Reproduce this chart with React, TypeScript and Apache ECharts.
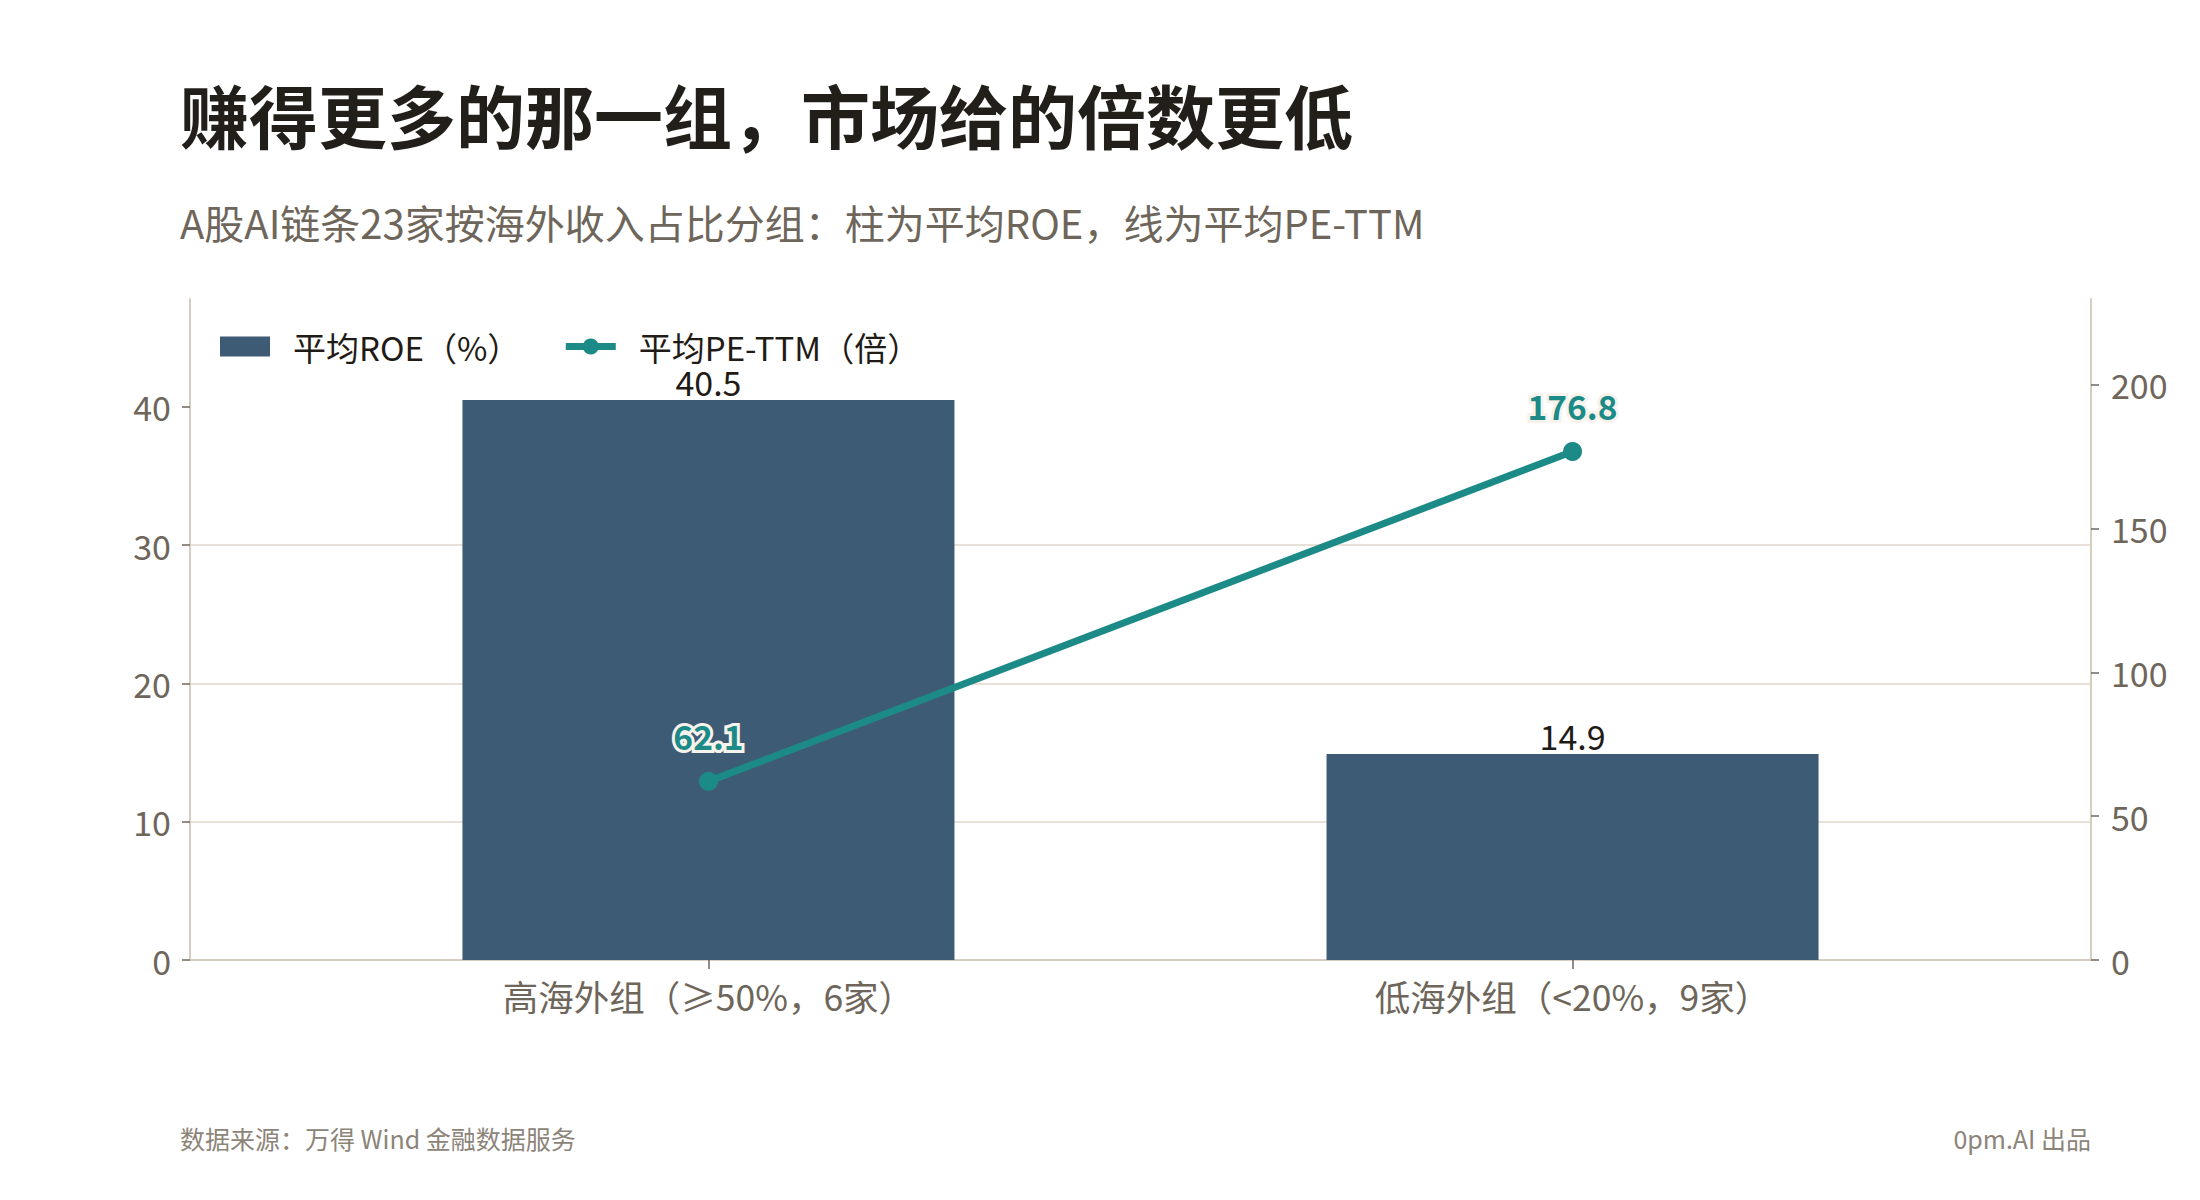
import React, { useEffect, useRef } from "react";
import * as echarts from "echarts";

// categories sit at x = 0 and x = 1 on a value axis (range -0.6 .. 1.6)
const groups = ["高海外组（≥50%，6家）", "低海外组（<20%，9家）"];
const groupPos = [0, 1];
const roeValues = [40.5, 14.9];
const peValues = [62.1, 176.8];
const roeTicks = [0, 10, 20, 30, 40];
const peTicks = [0, 50, 100, 150, 200];
const roeMax = 47.8;
const peMax = 229.8;

const FONT = "'Noto Sans CJK SC', 'Noto Sans', sans-serif";
const BAR = "#3e5b76";
const TEAL = "#1c8b87";
const AXIS = "#d6ccbf";
const GRID = "#e9e1d7";
const TICK_TEXT = "#6e665b";

const App: React.FC = () => {
  const chartRef = useRef<HTMLDivElement>(null);

  useEffect(() => {
    if (!chartRef.current) return;
    const chart = echarts.init(chartRef.current, null, { renderer: "svg" });

    const option = {
      animation: false,
      backgroundColor: "#ffffff",
      textStyle: { fontFamily: FONT },
      grid: { left: 190, right: 109, top: 299, bottom: 240 },
      graphic: [
        {
          type: "text",
          x: 180,
          y: 114,
          style: {
            text: "赚得更多的那一组，市场给的倍数更低",
            fontFamily: FONT,
            fontSize: 69,
            fontWeight: "bold",
            fill: "#221f1a",
            verticalAlign: "middle",
          },
        },
        {
          type: "text",
          x: 180,
          y: 222,
          style: {
            text: "A股AI链条23家按海外收入占比分组：柱为平均ROE，线为平均PE-TTM",
            fontFamily: FONT,
            fontSize: 40,
            fill: "#6e665b",
            verticalAlign: "middle",
          },
        },
        {
          type: "text",
          x: 180,
          y: 1138,
          style: {
            text: "数据来源：万得 Wind 金融数据服务",
            fontFamily: FONT,
            fontSize: 25,
            fill: "#8c8479",
            verticalAlign: "middle",
          },
        },
        {
          type: "text",
          x: 2091,
          y: 1138,
          style: {
            text: "0pm.AI 出品",
            fontFamily: FONT,
            fontSize: 25,
            fill: "#8c8479",
            align: "right",
            verticalAlign: "middle",
          },
        },
      ],
      legend: {
        left: 215,
        top: 325,
        itemWidth: 50,
        itemHeight: 20,
        itemGap: 42,
        textStyle: { fontFamily: FONT, fontSize: 33, color: "#1f1b16", padding: [0, 0, 0, 18] },
        data: [
          { name: "平均ROE（%）", icon: "rect" },
          { name: "平均PE-TTM（倍）", lineStyle: { width: 7 } },
        ],
      },
      xAxis: {
        type: "value",
        min: -0.6,
        max: 1.6,
        axisLine: { show: true, onZero: false, lineStyle: { color: AXIS, width: 2 } },
        axisTick: {
          show: true,
          customValues: groupPos,
          length: 9,
          lineStyle: { color: TICK_TEXT, width: 1.5 },
        },
        axisLabel: {
          customValues: groupPos,
          formatter: (v: number) => groups[groupPos.indexOf(v)] ?? "",
          fontFamily: FONT,
          fontSize: 35.5,
          color: TICK_TEXT,
          margin: 18,
        },
        splitLine: { show: false },
      },
      yAxis: [
        {
          type: "value",
          min: 0,
          max: roeMax,
          axisLine: { show: true, onZero: false, lineStyle: { color: AXIS, width: 2 } },
          axisTick: {
            show: true,
            customValues: roeTicks,
            length: 8,
            lineStyle: { color: TICK_TEXT, width: 1.5 },
          },
          axisLabel: {
            customValues: roeTicks,
            fontFamily: FONT,
            fontSize: 34,
            color: TICK_TEXT,
            margin: 19,
          },
          splitLine: {
            show: true,
            showMinLine: false,
            showMaxLine: false,
            lineStyle: { color: GRID, width: 2 },
          },
        },
        {
          type: "value",
          position: "right",
          min: 0,
          max: peMax,
          axisLine: { show: true, onZero: false, lineStyle: { color: AXIS, width: 2 } },
          axisTick: {
            show: true,
            customValues: peTicks,
            length: 8,
            lineStyle: { color: TICK_TEXT, width: 1.5 },
          },
          axisLabel: {
            customValues: peTicks,
            fontFamily: FONT,
            fontSize: 34,
            color: TICK_TEXT,
            margin: 20,
          },
          splitLine: { show: false },
        },
      ],
      series: [
        {
          name: "平均ROE（%）",
          type: "bar",
          barWidth: 492,
          data: groupPos.map((x, i) => [x, roeValues[i]]),
          itemStyle: { color: BAR },
          label: {
            show: true,
            position: "top",
            distance: 1,
            formatter: (p: any) => p.value[1].toFixed(1),
            fontFamily: FONT,
            fontSize: 34,
            color: "#1f1b16",
          },
        },
        {
          name: "平均PE-TTM（倍）",
          type: "line",
          yAxisIndex: 1,
          data: groupPos.map((x, i) => [x, peValues[i]]),
          symbol: "circle",
          symbolSize: 19,
          itemStyle: { color: TEAL },
          lineStyle: { color: TEAL, width: 7 },
          z: 5,
          label: {
            show: true,
            position: "top",
            distance: 20,
            formatter: (p: any) => p.value[1].toFixed(1),
            fontFamily: FONT,
            fontSize: 33.5,
            fontWeight: "bold",
            color: TEAL,
            textBorderColor: "#f7f3ec",
            textBorderWidth: 6,
          },
        },
      ],
    };

    chart.setOption(option);

    return () => {
      chart.dispose();
    };
  }, []);

  return (
    <div
      ref={chartRef}
      style={{ position: "fixed", left: 0, top: 0, width: 2200, height: 1200 }}
    />
  );
};

export default App;
